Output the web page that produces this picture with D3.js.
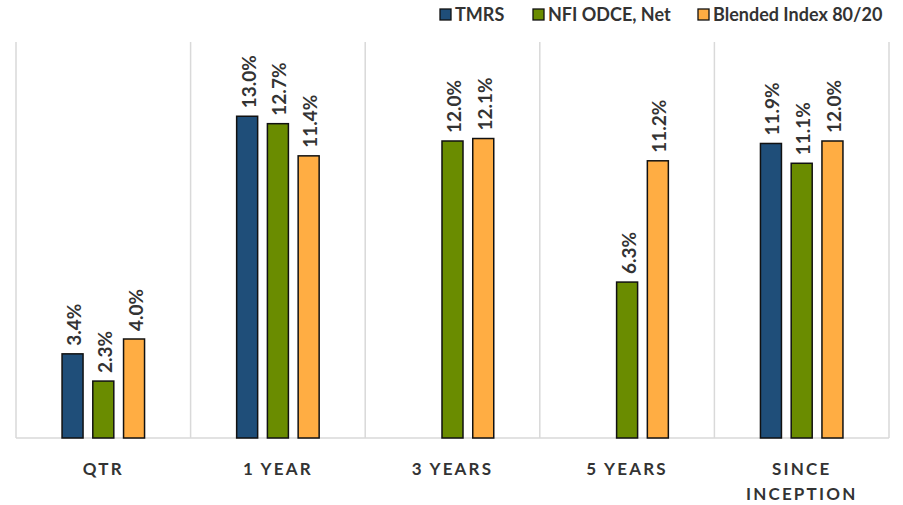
<!DOCTYPE html>
<html>
<head>
<meta charset="utf-8">
<script src="https://cdn.jsdelivr.net/npm/d3@7"></script>
<style>
  html, body { margin: 0; padding: 0; background: #ffffff; }
  svg { display: block; font-family: Lato, "Open Sans", sans-serif; }
</style>
</head>
<body>
<svg id="chart" width="903" height="505"></svg>
<script>
// Return periods along the x axis (second line for long names)
const categories = ["QTR", "1 YEAR", "3 YEARS", "5 YEARS", "SINCE INCEPTION"];
const categoryLines = [["QTR"], ["1 YEAR"], ["3 YEARS"], ["5 YEARS"], ["SINCE", "INCEPTION"]];

// Series names
const series = ["TMRS", "NFI ODCE, Net", "Blended Index 80/20"];

// Returns in percent per series (null = no return for that period)
const tmrs = [3.4, 13.0, null, null, 11.9];
const nfiOdce = [2.3, 12.7, 12.0, 6.3, 11.1];
const blended = [4.0, 11.4, 12.1, 11.2, 12.0];

const seriesValues = [tmrs, nfiOdce, blended];
const colors = ["#1F4E79", "#6A8C00", "#FFAD43"];

const svg = d3.select("#chart");
const margin = { left: 16, right: 14, top: 42, bottom: 67 };
const W = 903, H = 505;
const plotBottom = H - margin.bottom;

const x0 = d3.scaleBand().domain(categories).range([margin.left, W - margin.right]).padding(0);
const bw = x0.bandwidth();
const x1 = d3.scaleBand().domain(series)
  .range([bw / 2 - 41.25, bw / 2 + 41.25])
  .paddingInner(0.317).paddingOuter(0);
const y = d3.scaleLinear().domain([0, 16]).range([plotBottom, margin.top]);

// Category separators and frame
const grid = svg.append("g");
const edges = categories.map(c => x0(c)).concat([W - margin.right]);
grid.selectAll("line.sep").data(edges).join("line")
  .attr("x1", d => d).attr("x2", d => d)
  .attr("y1", margin.top).attr("y2", plotBottom)
  .attr("stroke", "#d9d9d9").attr("stroke-width", 1.5);
grid.append("line")
  .attr("x1", margin.left).attr("x2", W - margin.right)
  .attr("y1", plotBottom).attr("y2", plotBottom)
  .attr("stroke", "#d9d9d9").attr("stroke-width", 1.5);

// Bars
const rows = [];
categories.forEach((c, i) => {
  series.forEach((s, j) => {
    const v = seriesValues[j][i];
    if (v !== null) rows.push({ c, s, v, j });
  });
});

const bars = svg.append("g");
bars.selectAll("rect").data(rows).join("rect")
  .attr("x", d => x0(d.c) + x1(d.s))
  .attr("y", d => y(d.v))
  .attr("width", x1.bandwidth())
  .attr("height", d => plotBottom - y(d.v))
  .attr("fill", d => colors[d.j])
  .attr("stroke", "#111")
  .attr("stroke-width", 1.5);

// Value labels, rotated
svg.append("g").selectAll("text").data(rows).join("text")
  .attr("transform", d => {
    const cx = x0(d.c) + x1(d.s) + x1.bandwidth() / 2;
    return `translate(${cx + 8.5},${y(d.v) - 8}) rotate(-90)`;
  })
  .attr("text-anchor", "start")
  .attr("font-size", 19)
  .attr("font-weight", 700)
  .attr("fill", "#333333")
  .text(d => d.v.toFixed(1) + "%");

// Category labels
const cat = svg.append("g");
categories.forEach((c, i) => {
  const t = cat.append("text")
    .attr("x", x0(c) + bw / 2)
    .attr("y", 475)
    .attr("text-anchor", "middle")
    .attr("font-size", 17)
    .attr("font-weight", 700)
    .attr("letter-spacing", 2.2)
    .attr("fill", "#333333");
  categoryLines[i].forEach((line, k) => {
    t.append("tspan")
      .attr("x", x0(c) + bw / 2)
      .attr("dy", k === 0 ? 0 : 25)
      .text(line);
  });
});

// Legend
const legendX = [440, 533, 698];
const legend = svg.append("g");
series.forEach((s, j) => {
  legend.append("rect")
    .attr("x", legendX[j]).attr("y", 9)
    .attr("width", 11).attr("height", 11)
    .attr("fill", colors[j]).attr("stroke", "#111").attr("stroke-width", 1.3);
  legend.append("text")
    .attr("x", legendX[j] + 15).attr("y", 20.5)
    .attr("font-size", 18)
    .attr("font-weight", 700)
    .attr("fill", "#333333")
    .text(s);
});
</script>
</body>
</html>
